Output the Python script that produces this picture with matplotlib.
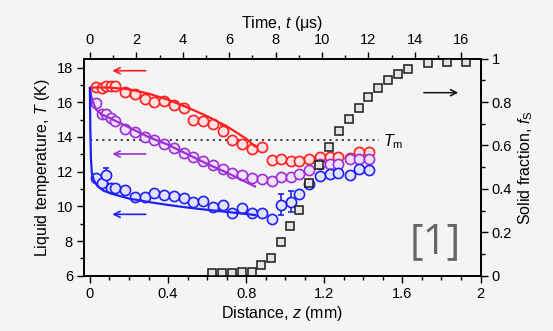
import matplotlib
matplotlib.use("Agg")
import matplotlib.pyplot as plt
from matplotlib.ticker import MultipleLocator

plt.rcParams['font.family'] = ['Liberation Sans', 'DejaVu Sans']
plt.rcParams['mathtext.fontset'] = 'custom'
plt.rcParams['mathtext.rm'] = 'Liberation Sans'
plt.rcParams['mathtext.it'] = 'Liberation Sans:italic'

# measured liquid temperature (circles), shared distance grid
z_circ = [0.03, 0.06, 0.08, 0.11, 0.13, 0.18, 0.23, 0.28, 0.33, 0.38, 0.43,
          0.48, 0.53, 0.58, 0.63, 0.68, 0.73, 0.78, 0.83, 0.88, 0.93, 0.98,
          1.03, 1.07, 1.12, 1.18, 1.23, 1.27, 1.33, 1.38, 1.43]
T_red = [16.9, 16.85, 16.95, 16.92, 16.92, 16.62, 16.47, 16.2, 16.04, 16.08, 15.85,
         15.69, 14.98, 14.94, 14.74, 14.37, 13.83, 13.6, 13.29, 13.41, 12.68, 12.72,
         12.62, 12.62, 12.72, 12.87, 12.87, 12.87, 12.81, 13.12, 13.12]
T_purple = [15.98, 15.3, 15.33, 15.08, 14.93, 14.46, 14.27, 14.0, 13.8, 13.57, 13.35,
            13.08, 12.83, 12.64, 12.39, 12.16, 11.91, 11.78, 11.61, 11.58, 11.46, 11.68,
            11.68, 11.87, 12.1, 12.43, 12.43, 12.43, 12.73, 12.73, 12.73]
T_blue = [11.64, 11.35, 11.78, 11.04, 11.04, 10.93, 10.56, 10.52, 10.77, 10.67, 10.62,
          10.5, 10.27, 10.29, 9.98, 10.1, 9.62, 9.88, 9.59, 9.62, 9.29, 10.1,
          10.27, 10.73, 11.29, 11.75, 11.87, 11.91, 11.81, 12.14, 12.08]
# error bars (index -> size)
err_red = {11: 0.2, 15: 0.3}
err_blue = {2: 0.45, 8: 0.2, 21: 0.6, 22: 0.6}

# model curves
z_fit_red = [0.0, 0.1, 0.2, 0.3, 0.4, 0.5, 0.6, 0.7, 0.8, 0.845]
T_fit_red = [16.85, 16.85, 16.75, 16.5, 16.15, 15.7, 15.2, 14.62, 13.9, 13.45]
z_fit_purple = [0.0, 0.01, 0.03, 0.06, 0.1, 0.2, 0.3, 0.4, 0.5, 0.6, 0.7, 0.8, 0.845]
T_fit_purple = [16.8, 16.2, 15.6, 15.3, 15.1, 14.55, 14.0, 13.55, 13.0, 12.45, 11.95, 11.4, 11.15]
z_fit_blue = [0.0, 0.002, 0.005, 0.01, 0.02, 0.04, 0.07, 0.12, 0.2, 0.3, 0.4, 0.5,
              0.6, 0.7, 0.8, 0.845]
T_fit_blue = [16.8, 14.5, 12.8, 11.9, 11.5, 11.15, 10.9, 10.7, 10.45, 10.25, 10.08,
              9.93, 9.8, 9.68, 9.56, 9.5]

# solid fraction (squares, right axis)
z_sq = [0.625, 0.677, 0.727, 0.778, 0.828, 0.875, 0.926, 0.976, 1.026, 1.073, 1.124,
        1.175, 1.226, 1.274, 1.325, 1.376, 1.426, 1.473, 1.524, 1.575, 1.626, 1.729,
        1.828, 1.928]
f_sq = [0.011, 0.012, 0.012, 0.015, 0.018, 0.05, 0.083, 0.157, 0.23, 0.303, 0.429,
        0.512, 0.593, 0.667, 0.724, 0.774, 0.822, 0.866, 0.902, 0.929, 0.952, 0.979,
        0.983, 0.983]

T_m = 13.83
bg = '#f4f4f4'
series = [
    (T_red, err_red, z_fit_red, T_fit_red, '#ff1f1f', '#ffe2e2', 17.82),
    (T_purple, {}, z_fit_purple, T_fit_purple, '#9b30d6', '#f1e1fa', 13.02),
    (T_blue, err_blue, z_fit_blue, T_fit_blue, '#2020f5', '#e2e3ff', 9.54),
]

fig = plt.figure(figsize=(5.53, 3.31), dpi=100, facecolor=bg)
ax = fig.add_axes([0.152, 0.167, 0.717, 0.656], facecolor=bg)

ax.plot([0, 1.48], [T_m, T_m], ls=(0, (1.2, 2.2)), color='#333333', lw=1.3, zorder=1)
ax.text(1.5, T_m - 0.1, '$T_\\mathrm{m}$', fontsize=11.5, va='center', ha='left')

for T, errs, zf, Tf, col, fill, ya in series:
    idx = sorted(errs)
    if idx:
        ax.errorbar([z_circ[i] for i in idx], [T[i] for i in idx],
                    yerr=[errs[i] for i in idx], fmt='none', ecolor=col,
                    elinewidth=1.2, capsize=2, capthick=1.2, zorder=2)
    ax.plot(z_circ, T, 'o', ms=7.3, mfc=fill, mec=col, mew=1.2, zorder=3)
    ax.plot(zf, Tf, '-', color=col, lw=1.6, zorder=4)
    ax.annotate('', xy=(0.1, ya), xytext=(0.3, ya),
                arrowprops=dict(arrowstyle='->', color=col, lw=1.2, mutation_scale=11))

ax.set_xlim(-0.03, 2.0)
ax.set_ylim(6, 18.52)
ax.xaxis.set_minor_locator(MultipleLocator(0.1))
ax.yaxis.set_major_locator(MultipleLocator(2))
ax.yaxis.set_minor_locator(MultipleLocator(1))
ax.set_xticks([0, 0.4, 0.8, 1.2, 1.6, 2])
ax.set_xticklabels(['0', '0.4', '0.8', '1.2', '1.6', '2'])
ax.set_xlabel('Distance, $z$ (mm)', fontsize=11.5, labelpad=2)
ax.set_ylabel('Liquid temperature, $T$ (K)', fontsize=11.5, labelpad=3)

axr = ax.twinx()
axr.plot(z_sq, f_sq, 's', ms=6.2, mfc='#e4e4e4', mec='#1a1a1a', mew=1.1, zorder=5)
axr.annotate('', xy=(1.9, 0.843), xytext=(1.695, 0.843),
             arrowprops=dict(arrowstyle='->', color='#111111', lw=1.1, mutation_scale=11))
axr.set_ylim(0, 1)
axr.yaxis.set_minor_locator(MultipleLocator(0.1))
axr.set_yticks([0, 0.2, 0.4, 0.6, 0.8, 1])
axr.set_yticklabels(['0', '0.2', '0.4', '0.6', '0.8', '1'])
axr.set_ylabel('Solid fraction, $f_\\mathrm{S}$', fontsize=11.5, labelpad=3)

axt = ax.twiny()
axt.set_xlim(-0.03 / 0.1188, 2.0 / 0.1188)
axt.xaxis.set_major_locator(MultipleLocator(2))
axt.xaxis.set_minor_locator(MultipleLocator(1))
axt.set_xlabel('Time, $t$ (\u03bcs)', fontsize=11.5, labelpad=4)

for a in (ax, axr, axt):
    a.tick_params(which='major', direction='out', length=5, width=1.0, labelsize=10.5, pad=3)
    a.tick_params(which='minor', direction='out', length=3, width=1.0)
    for s in a.spines.values():
        s.set_linewidth(1.1)

axr.text(1.77, 0.155, '[1]', fontsize=30, color='#666666', fontfamily='Open Sans',
         ha='center', va='center', zorder=6)

fig.savefig('out.png', dpi=100, facecolor=bg)
